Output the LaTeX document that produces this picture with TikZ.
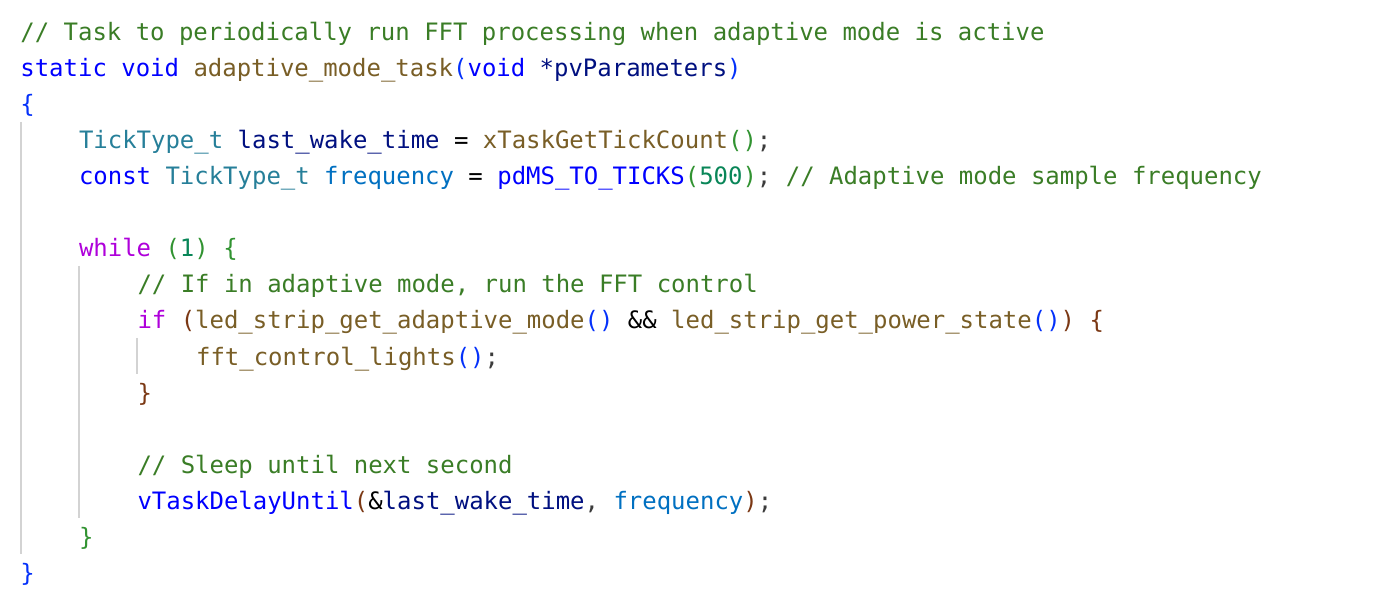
\documentclass[tikz,border=0pt]{standalone}
\usepackage{fontspec}
\setmonofont{DejaVu Sans Mono}
\definecolor{cmtgreen}{HTML}{3A7D26}
\definecolor{kwblue}{HTML}{0000FF}
\definecolor{ctlpurple}{HTML}{AF00DB}
\definecolor{fnbrown}{HTML}{795E26}
\definecolor{tyteal}{HTML}{267F99}
\definecolor{varnavy}{HTML}{001080}
\definecolor{cstblue}{HTML}{0070C1}
\definecolor{numgreen}{HTML}{098658}
\definecolor{brA}{HTML}{0431FA}
\definecolor{brB}{HTML}{319331}
\definecolor{brC}{HTML}{7B3814}
\definecolor{punct}{HTML}{3B3B3B}
\definecolor{guidegray}{HTML}{D3D3D3}
\newcommand\cm[1]{\textcolor{cmtgreen}{#1}}
\newcommand\kw[1]{\textcolor{kwblue}{#1}}
\newcommand\ctl[1]{\textcolor{ctlpurple}{#1}}
\newcommand\fn[1]{\textcolor{fnbrown}{#1}}
\newcommand\ty[1]{\textcolor{tyteal}{#1}}
\newcommand\vr[1]{\textcolor{varnavy}{#1}}
\newcommand\cst[1]{\textcolor{cstblue}{#1}}
\newcommand\nm[1]{\textcolor{numgreen}{#1}}
\newcommand\bA[1]{\textcolor{brA}{#1}}
\newcommand\bB[1]{\textcolor{brB}{#1}}
\newcommand\bC[1]{\textcolor{brC}{#1}}
\newcommand\pn[1]{\textcolor{punct}{#1}}

\begin{document}
\begin{tikzpicture}[x=0.5pt,y=-0.5pt,
	code/.style={anchor=base west,inner sep=0pt,font=\ttfamily\fontsize{11.98pt}{14pt}\selectfont},
	guide/.style={draw=guidegray,line width=1pt}]
	\useasboundingbox[fill=white] (0,0) rectangle (1400,592);
	% indent guides
	\draw[guide] (21,122) -- (21,554);
	\draw[guide] (79,266) -- (79,518);
	\draw[guide] (137,338) -- (137,374);
	% code lines
	\node[code] (c1) at (20,41) {\cm{// Task to periodically run FFT processing when adaptive mode is active}};
	\node[code] (c2) at (20,77) {\kw{static void} \fn{adaptive\_mode\_task}\bA{(}\kw{void} \vr{*pvParameters}\bA{)}};
	\node[code] (c3) at (20,113) {\bA{\{}};
	\node[code] (c4) at (78.6,149) {\ty{TickType\_t} \vr{last\_wake\_time} = \fn{xTaskGetTickCount}\bB{()}\pn{;}};
	\node[code] (c5) at (78.6,185) {\kw{const} \ty{TickType\_t} \cst{frequency} = \kw{pdMS\_TO\_TICKS}\bB{(}\nm{500}\bB{)}\pn{;} \cm{// Adaptive mode sample frequency}};
	\node[code] (c7) at (78.6,257) {\ctl{while} \bB{(}\nm{1}\bB{)} \bB{\{}};
	\node[code] (c8) at (137.1,293) {\cm{// If in adaptive mode, run the FFT control}};
	\node[code] (c9) at (137.1,329) {\ctl{if} \bC{(}\fn{led\_strip\_get\_adaptive\_mode}\bA{()} \&\& \fn{led\_strip\_get\_power\_state}\bA{()}\bC{)} \bC{\{}};
	\node[code] (c10) at (195.7,365) {\fn{fft\_control\_lights}\bA{()}\pn{;}};
	\node[code] (c11) at (137.1,401) {\bC{\}}};
	\node[code] (c13) at (137.1,473) {\cm{// Sleep until next second}};
	\node[code] (c14) at (137.1,509) {\kw{vTaskDelayUntil}\bC{(}\&\vr{last\_wake\_time}\pn{,} \cst{frequency}\bC{)}\pn{;}};
	\node[code] (c15) at (78.6,545) {\bB{\}}};
	\node[code] (c16) at (20,581) {\bA{\}}};
\end{tikzpicture}
\end{document}
